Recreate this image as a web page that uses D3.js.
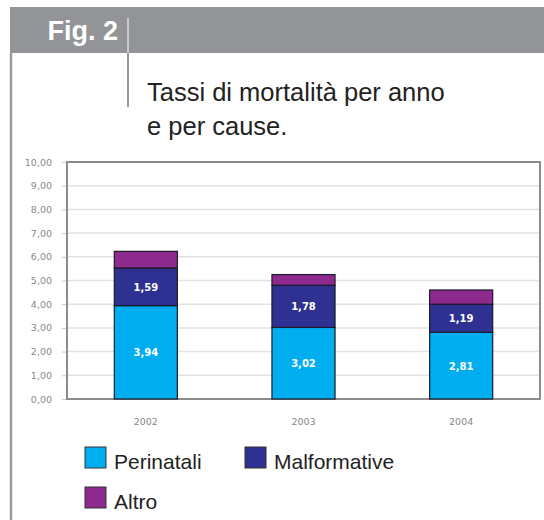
<!DOCTYPE html>
<html>
<head>
<meta charset="utf-8">
<script src="https://cdn.jsdelivr.net/npm/d3@7"></script>
<style>
  body { margin: 0; background: #fff; }
  svg { display: block; }
</style>
</head>
<body>
<svg id="chart" width="544" height="520"></svg>
<script>
// --- Data ---
const years = ["2002", "2003", "2004"];
const perinatali = [3.94, 3.02, 2.81];
const malformative = [1.59, 1.78, 1.19];
const altro = [0.70, 0.45, 0.60];
const yTicks = [0, 1, 2, 3, 4, 5, 6, 7, 8, 9, 10];

const seriesNames = ["Perinatali", "Malformative", "Altro"];
const seriesColors = ["#00aeef", "#2e3192", "#8e2a8e"];

// --- Setup ---
const svg = d3.select("#chart");
const fmt = v => d3.format(".2f")(v).replace(".", ",");
const sans = "Liberation Sans, Arial, sans-serif";

// header frame
svg.append("rect").attr("x", 10).attr("y", 7).attr("width", 534).attr("height", 46).attr("fill", "#929497");
svg.append("line").attr("x1", 11).attr("x2", 11).attr("y1", 53).attr("y2", 520)
  .attr("stroke", "#9a9a9a").attr("stroke-width", 2.5);
svg.append("line").attr("x1", 128).attr("x2", 128).attr("y1", 18).attr("y2", 53)
  .attr("stroke", "#fff").attr("stroke-width", 1);
svg.append("line").attr("x1", 128).attr("x2", 128).attr("y1", 53).attr("y2", 107)
  .attr("stroke", "#333").attr("stroke-width", 1);
svg.append("text").attr("x", 118).attr("y", 40).attr("text-anchor", "end")
  .attr("font-family", sans).attr("font-weight", "bold")
  .attr("font-size", 27).attr("fill", "#fff").text("Fig. 2");
svg.append("text").attr("x", 147).attr("y", 101)
  .attr("font-family", sans).attr("font-size", 25.5)
  .attr("fill", "#222").text("Tassi di mortalità per anno");
svg.append("text").attr("x", 147).attr("y", 135)
  .attr("font-family", sans).attr("font-size", 25.5)
  .attr("fill", "#222").text("e per cause.");

// --- Scales ---
const plot = { left: 67, right: 540, top: 162, bottom: 399 };
const x = d3.scaleBand().domain(years).range([plot.left, plot.right]).paddingInner(0.6).paddingOuter(0.3);
const y = d3.scaleLinear().domain([0, 10]).range([plot.bottom, plot.top]);

// gridlines
svg.append("g").selectAll("line").data(yTicks.slice(1, -1)).join("line")
  .attr("x1", plot.left).attr("x2", plot.right)
  .attr("y1", d => y(d)).attr("y2", d => y(d))
  .attr("stroke", "#e2e2e2").attr("stroke-width", 1.5);

// y axis
const yAxis = svg.append("g").attr("transform", `translate(${plot.left},0)`)
  .call(d3.axisLeft(y).tickValues(yTicks).tickFormat(fmt).tickSize(5).tickPadding(10));
yAxis.select(".domain").remove();
yAxis.selectAll("line").attr("stroke", "#c8c8c8");
yAxis.selectAll("text").attr("font-family", "DejaVu Sans, sans-serif").attr("font-size", 9.5).attr("fill", "#8a8a8a");

// x axis
const xAxis = svg.append("g").attr("transform", `translate(0,${plot.bottom})`)
  .call(d3.axisBottom(x).tickSize(0).tickPadding(19));
xAxis.select(".domain").remove();
xAxis.selectAll("text").attr("font-family", "DejaVu Sans, sans-serif").attr("font-size", 9.5).attr("fill", "#8a8a8a");

// plot border
svg.append("rect").attr("x", plot.left).attr("y", plot.top)
  .attr("width", plot.right - plot.left).attr("height", plot.bottom - plot.top)
  .attr("fill", "none").attr("stroke", "#8c8c8c").attr("stroke-width", 2);

// --- Stacked bars ---
const rows = years.map((yr, i) => ({ year: yr, Perinatali: perinatali[i], Malformative: malformative[i], Altro: altro[i] }));
const stacked = d3.stack().keys(seriesNames)(rows);

const layers = svg.append("g").selectAll("g").data(stacked).join("g")
  .attr("fill", (d, i) => seriesColors[i]);
layers.selectAll("rect").data(d => d).join("rect")
  .attr("x", d => x(d.data.year))
  .attr("width", x.bandwidth())
  .attr("y", d => y(d[1]))
  .attr("height", d => y(d[0]) - y(d[1]))
  .attr("stroke", "#1a1a2a").attr("stroke-width", 1.2);

// value labels (Perinatali and Malformative)
stacked.slice(0, 2).forEach(layer => {
  svg.append("g").selectAll("text").data(layer).join("text")
    .attr("x", d => x(d.data.year) + x.bandwidth() / 2)
    .attr("y", d => (y(d[0]) + y(d[1])) / 2 + 4)
    .attr("text-anchor", "middle")
    .attr("font-family", "DejaVu Sans, sans-serif").attr("font-weight", "bold")
    .attr("font-size", 10).attr("fill", "#fff")
    .text(d => fmt(d[1] - d[0]));
});

// --- Legend ---
const legendPos = [[85, 447], [245, 447], [85, 487]];
const legend = svg.append("g").selectAll("g").data(seriesNames).join("g")
  .attr("transform", (d, i) => `translate(${legendPos[i][0]},${legendPos[i][1]})`);
legend.append("rect").attr("width", 21).attr("height", 21)
  .attr("fill", (d, i) => seriesColors[i]).attr("stroke", "#333").attr("stroke-width", 1);
legend.append("text").attr("x", 29).attr("y", 22)
  .attr("font-family", sans).attr("font-size", 21)
  .attr("fill", "#222").text(d => d);
</script>
</body>
</html>
